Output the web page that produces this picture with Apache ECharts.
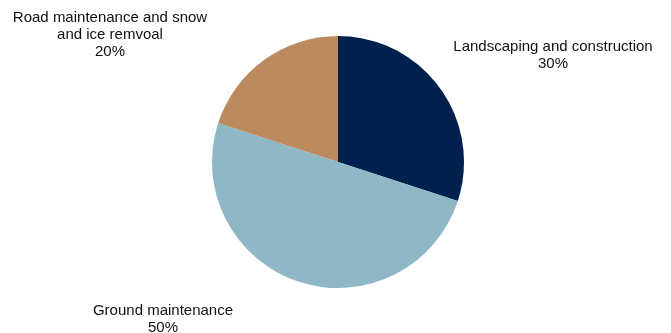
<!DOCTYPE html>
<html>
<head>
<meta charset="utf-8">
<script src="https://cdn.jsdelivr.net/npm/echarts@6/dist/echarts.min.js"></script>
<style>
  html, body { margin: 0; padding: 0; background: #fff; }
  #chart { width: 671px; height: 333px; }
</style>
</head>
<body>
<div id="chart"></div>
<script>
// slice data, clockwise from 12 o'clock
var names = ['Landscaping and construction', 'Ground maintenance', 'Road maintenance and snow\nand ice remvoal'];
var values = [30, 50, 20];
var colors = ['#00214d', '#8fb8c6', '#bb8a5e'];
// where each label sits (text centre)
var labelSpots = [[553, 55], [163, 319], [110, 35]];

var chart = echarts.init(document.getElementById('chart'));

var option = {
  animation: false,
  series: [
    {
      type: 'pie',
      center: [338, 162],
      radius: 126,
      startAngle: 90,
      clockwise: true,
      data: names.map(function (n, i) {
        return { name: n, value: values[i], itemStyle: { color: colors[i] } };
      }),
      itemStyle: { borderWidth: 0 },
      label: {
        show: true,
        position: 'outside',
        formatter: '{b}\n{c}%',
        color: '#111',
        fontFamily: 'Liberation Sans, Arial, sans-serif',
        fontSize: 15,
        lineHeight: 17,
        align: 'center',
        overflow: 'none'
      },
      labelLine: { show: false },
      labelLayout: function (params) {
        var p = labelSpots[params.dataIndex];
        return { x: p[0], y: p[1], align: 'center', verticalAlign: 'middle' };
      },
      emphasis: { disabled: true }
    }
  ]
};

chart.setOption(option);
</script>
</body>
</html>
